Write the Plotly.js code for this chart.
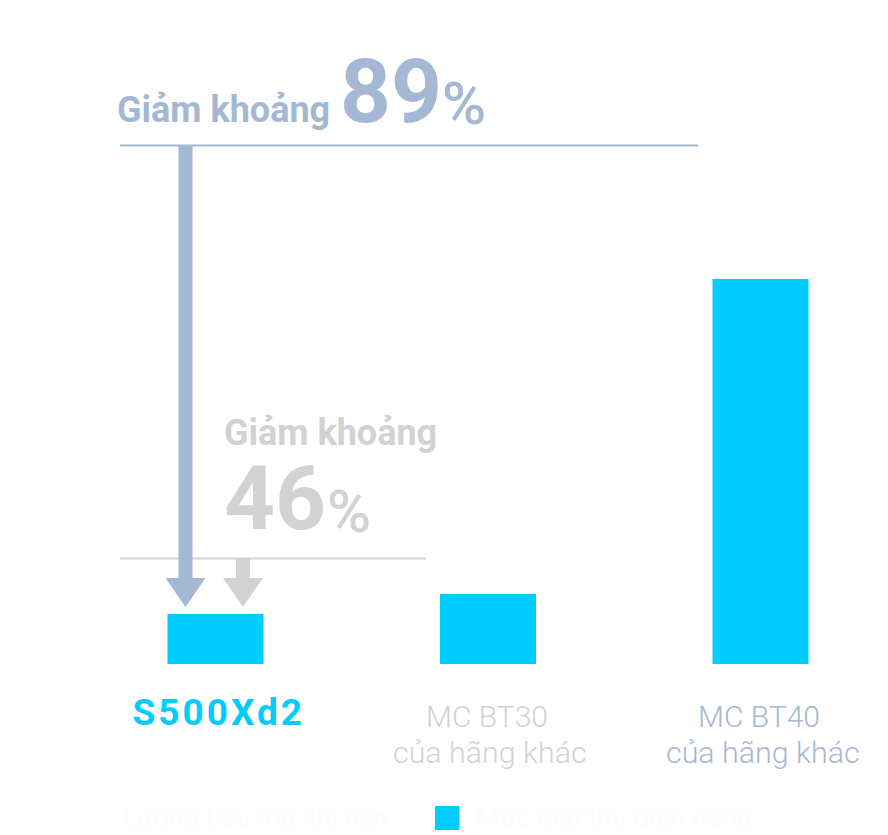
<!DOCTYPE html>
<html><head><meta charset="utf-8">
<script src="https://cdn.plot.ly/plotly-3.0.1.min.js"></script>
<style>html,body{margin:0;padding:0;background:#fff}#c{width:888px;height:835px}</style>
</head><body><div id="c"></div>
<script>
var categories = ["S500Xd2", "MC BT30", "MC BT40"];
var categorySub = ["", "của hãng khác", "của hãng khác"];
var values = [50, 70, 385];
var labelColors = ["#00ccff", "#d2d2d2", "#a5b8d3"];
var legendLabels = ["Lượng tiêu thụ khí nén", "Mức tiêu thụ điện năng"];
var BLUE = "#a5b8d3", GREY = "#d2d2d2", CYAN = "#00ccff", FAINT = "#fdfdfd";
var W = 888, H = 835, BASE = 664;
function px(x){return x/W;}
function py(y){return 1-y/BASE;}
function arrow(cx, top, tip, hw, headY, sw){
  return "M"+px(cx-sw)+","+py(top)+"L"+px(cx+sw)+","+py(top)+"L"+px(cx+sw)+","+py(headY)+"L"+px(cx+hw)+","+py(headY)+"L"+px(cx)+","+py(tip)+"L"+px(cx-hw)+","+py(headY)+"L"+px(cx-sw)+","+py(headY)+"Z";
}
function pathShape(p,c){return {type:"path",xref:"paper",yref:"paper",path:p,fillcolor:c,line:{width:0},layer:"above"};}
function lineShape(x0,x1,y,c){return {type:"line",xref:"paper",yref:"paper",x0:px(x0),x1:px(x1),y0:py(y),y1:py(y),line:{color:c,width:2},layer:"below"};}
function txt(x,y,t,size,color,weight,anchor){
  return {xref:"paper",yref:"paper",x:px(x),y:py(y),text:t,showarrow:false,xanchor:anchor||"left",yanchor:"middle",align:"center",
    font:{family:"Roboto",size:size,color:color,weight:weight||700}};
}
var ann = [
  txt(115,110,"Giảm khoảng",36,BLUE,700),
  txt(338,91,"89",89,BLUE,700),
  txt(440,103,"%",60,BLUE,500),
  txt(222,433,"Giảm khoảng",36,GREY,700),
  txt(222,498,"46",89,GREY,700),
  txt(325,511,"%",60,GREY,500),
  txt(218.5,712,categories[0],37,labelColors[0],700,"center"),
  txt(486.5,716,categories[1],30,labelColors[1],300,"center"),
  txt(490,752.5,categorySub[1],30.4,labelColors[1],300,"center"),
  txt(758.5,716,categories[2],30,labelColors[2],300,"center"),
  txt(762.5,752.5,categorySub[2],30.4,labelColors[2],300,"center"),
  txt(256,818,legendLabels[0],27,FAINT,400,"center"),
  txt(614,818,legendLabels[1],27,FAINT,400,"center")
];
var shapes = [
  lineShape(120,698,145.5,BLUE),
  lineShape(120,426,558.5,GREY),
  pathShape(arrow(243,559,607,20,578,7),GREY),
  pathShape(arrow(185.5,146,607,20,578,7),BLUE),
  {type:"rect",xref:"paper",yref:"paper",x0:px(435),x1:px(459.5),y0:py(830),y1:py(806),fillcolor:CYAN,line:{width:0}}
];
var trace = {type:"bar",x:[0,1,2],y:values,width:96/272.5,marker:{color:CYAN,line:{width:0}},hoverinfo:"skip"};
var layout = {width:W,height:H,margin:{l:0,r:0,t:0,b:H-BASE,pad:0},paper_bgcolor:"#fff",plot_bgcolor:"#fff",showlegend:false,
  xaxis:{range:[-215.5/272.5,(W-215.5)/272.5],visible:false,fixedrange:true},
  yaxis:{range:[0,BASE],visible:false,fixedrange:true},
  annotations:ann,shapes:shapes};
Plotly.newPlot("c",[trace],layout,{displayModeBar:false,staticPlot:true}).then(function(){
  document.querySelectorAll(".annotation-text").forEach(function(t){
    if(t.textContent.indexOf("S500")===0){t.style.letterSpacing="3px";}
  });
});
</script></body></html>
